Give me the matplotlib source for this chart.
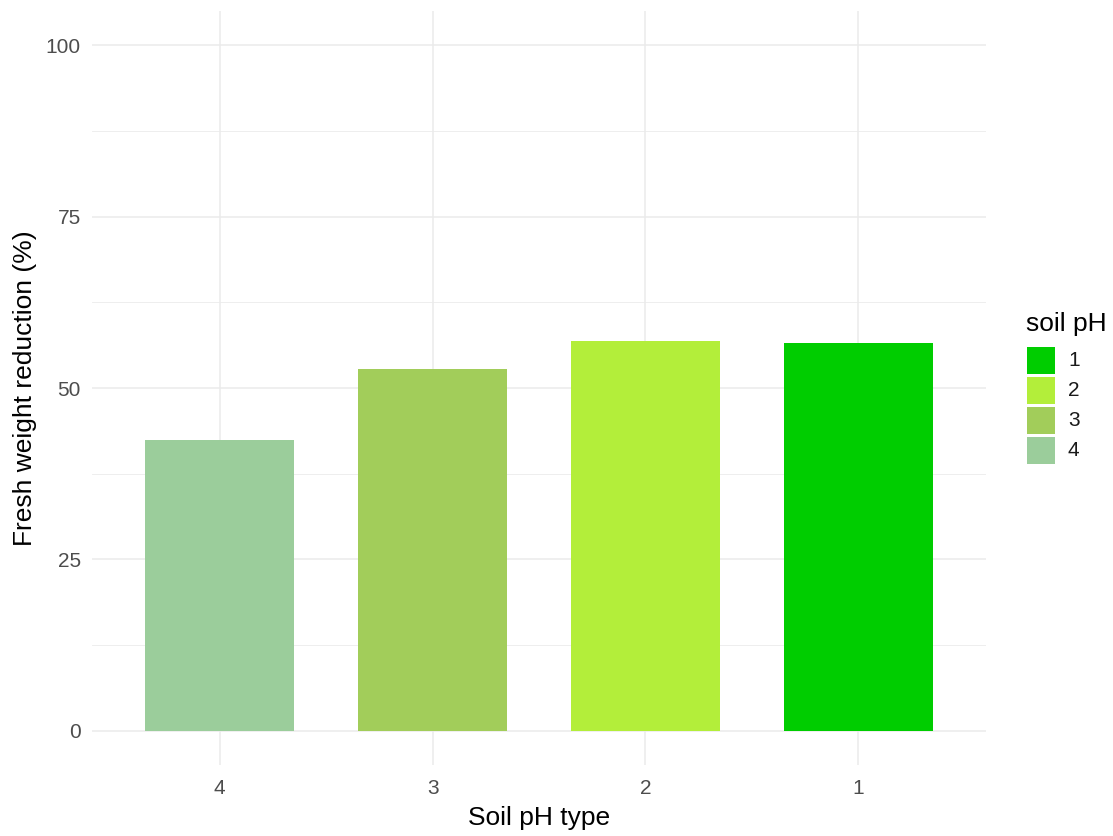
import matplotlib.pyplot as plt
from matplotlib.patches import Rectangle
from matplotlib.ticker import MultipleLocator

plt.rcParams["font.family"] = ["Liberation Sans", "DejaVu Sans"]

# data
categories = ["4", "3", "2", "1"]
values = [42.4, 52.7, 56.8, 56.6]
colors = {"1": "#00CD00", "2": "#B3EE3A", "3": "#A2CD5A", "4": "#9BCD9B"}
legend_order = ["1", "2", "3", "4"]

W, H = 1113, 836
fig = plt.figure(figsize=(W / 100, H / 100), dpi=100)
ax = fig.add_axes([92 / W, (H - 765) / H, (986 - 92) / W, (765 - 11) / H])

x = range(len(categories))
ax.bar(x, values, width=0.7, color=[colors[c] for c in categories], zorder=3)

ax.set_xlim(-0.6, len(categories) - 1 + 0.6)
ax.set_ylim(-5, 105)
ax.set_xticks(list(x))
ax.set_xticklabels(categories)
ax.yaxis.set_major_locator(MultipleLocator(25))
ax.yaxis.set_minor_locator(MultipleLocator(12.5))

ax.grid(which="major", color="#EBEBEB", linewidth=1.1, zorder=0)
ax.grid(which="minor", axis="y", color="#EBEBEB", linewidth=0.6, zorder=0)
for s in ax.spines.values():
    s.set_visible(False)
ax.tick_params(which="both", length=0, labelsize=15, labelcolor="#4D4D4D")
ax.tick_params(axis="x", pad=10)
ax.tick_params(axis="y", pad=8)

ax.set_xlabel("Soil pH type", fontsize=19, color="black", labelpad=6)
ax.set_ylabel("Fresh weight reduction (%)", fontsize=19, color="black", labelpad=6)

# legend drawn by hand, in figure pixels (y from the top)
def px(xp, yp):
    return xp / W, 1 - yp / H

fig.text(*px(1026, 331), "soil pH", fontsize=19, va="baseline", ha="left")
key_w, key_h, step = 28, 27, 30
for i, lab in enumerate(legend_order):
    top = 347 + i * step
    x0, y0 = px(1027, top + key_h)
    fig.add_artist(Rectangle((x0, y0), key_w / W, key_h / H,
                             transform=fig.transFigure, facecolor=colors[lab],
                             edgecolor="none"))
    fig.text(*px(1068, top + key_h / 2), lab, fontsize=15, va="center", ha="left",
             color="#1A1A1A")

fig.savefig("out.png", dpi=100)
